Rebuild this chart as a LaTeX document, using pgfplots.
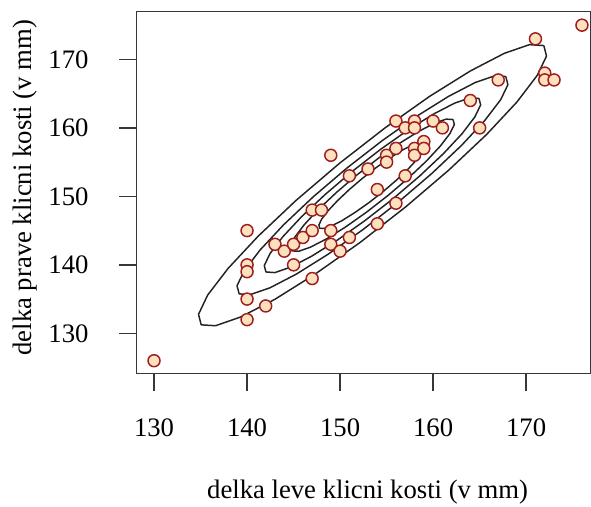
\documentclass[border=0pt]{standalone}
\usepackage{fontspec}
\setmainfont{Liberation Serif}
\usepackage{pgfplots}
\pgfplotsset{compat=1.18}
\definecolor{ptfill}{RGB}{253,224,190}
\definecolor{ptedge}{RGB}{158,30,30}
\definecolor{axgray}{RGB}{55,55,55}
\definecolor{cline}{RGB}{35,35,35}
\begin{document}
\fontsize{20}{24}\selectfont
\begin{tikzpicture}
\begin{axis}[
  scale only axis, width=340pt, height=271.35pt,
  xmin=128.14, xmax=176.9, ymin=124.1, ymax=176.96,
  axis line style={axgray, line width=1.1pt},
  xtick={130,140,150,160,170}, ytick={130,140,150,160,170},
  tick align=outside, major tick length=13pt,
  tick style={axgray, line width=1.1pt},
  xtick pos=bottom, ytick pos=left,
  tick label style={font=\fontsize{20}{24}\selectfont},
  /pgf/number format/assume math mode=true,
  x tick label style={anchor=center, yshift=-27.8pt},
  y tick label style={anchor=east, inner sep=0pt, xshift=-23pt},
  xlabel={delka leve klicni kosti (v mm)},
  ylabel={delka prave klicni kosti (v mm)},
  xlabel style={at={(axis description cs:0.509,-0.3276)}, anchor=center, font=\fontsize{20}{24}\selectfont},
  ylabel style={at={(axis description cs:-0.2465,0.514)}, anchor=center, font=\fontsize{20}{24}\selectfont},
  clip=false,
]
\coordinate (bl) at (rel axis cs:0,0);
\coordinate (tr) at (rel axis cs:1,1);
\pgfplotsset{contourstyle/.style={cline, line width=1.1pt, line join=round, no marks, sharp plot}}
\addplot[contourstyle] coordinates {(171.90,172.02) (170.35,172.15) (167.66,170.89) (164.00,168.31) (159.62,164.60) (154.83,160.00) (149.94,154.83) (145.29,149.44) (141.21,144.21) (137.96,139.48) (135.76,135.58) (134.78,132.77) (135.07,131.24) (136.61,131.11) (139.30,132.38) (142.97,134.95) (147.34,138.67) (152.14,143.26) (157.02,148.43) (161.67,153.82) (165.76,159.05) (169.01,163.78) (171.20,167.68) (172.19,170.49) (171.90,172.02)};
\addplot[contourstyle] coordinates {(167.81,167.50) (166.61,167.60) (164.52,166.62) (161.67,164.61) (158.26,161.72) (154.53,158.14) (150.72,154.12) (147.11,149.93) (143.93,145.85) (141.40,142.17) (139.69,139.13) (138.92,136.95) (139.15,135.76) (140.35,135.66) (142.45,136.64) (145.30,138.65) (148.70,141.54) (152.43,145.12) (156.24,149.14) (159.85,153.33) (163.03,157.41) (165.56,161.09) (167.27,164.13) (168.04,166.31) (167.81,167.50)};
\addplot[contourstyle] coordinates {(164.93,164.30) (163.97,164.39) (162.29,163.60) (160.02,162.00) (157.30,159.69) (154.32,156.83) (151.28,153.62) (148.39,150.27) (145.85,147.02) (143.83,144.08) (142.47,141.65) (141.85,139.90) (142.03,138.96) (142.99,138.87) (144.67,139.66) (146.94,141.26) (149.66,143.57) (152.64,146.43) (155.68,149.64) (158.57,152.99) (161.11,156.24) (163.13,159.18) (164.49,161.61) (165.11,163.36) (164.93,164.30)};
\addplot[contourstyle] coordinates {(162.14,161.22) (161.41,161.28) (160.15,160.69) (158.43,159.47) (156.37,157.73) (154.11,155.56) (151.81,153.13) (149.63,150.60) (147.71,148.14) (146.18,145.92) (145.15,144.08) (144.68,142.76) (144.82,142.04) (145.55,141.98) (146.81,142.58) (148.54,143.79) (150.59,145.53) (152.85,147.70) (155.15,150.13) (157.33,152.66) (159.25,155.12) (160.78,157.35) (161.81,159.18) (162.28,160.50) (162.14,161.22)};
\addplot[contourstyle] coordinates {(159.15,157.91) (158.68,157.95) (157.85,157.56) (156.72,156.77) (155.37,155.63) (153.89,154.21) (152.39,152.62) (150.96,150.96) (149.70,149.34) (148.70,147.89) (148.02,146.68) (147.72,145.82) (147.81,145.35) (148.28,145.31) (149.11,145.70) (150.24,146.49) (151.59,147.64) (153.07,149.05) (154.57,150.64) (156.00,152.30) (157.26,153.92) (158.26,155.37) (158.94,156.58) (159.24,157.44) (159.15,157.91)};
\addplot[only marks, mark=*, mark size=4.5pt, mark options={fill=ptfill, draw=ptedge, line width=1.1pt}] coordinates {
(130,126) (140,145) (140,140) (140,139) (140,135) (140,132) (142,134) (143,143)
(144,142) (145,143) (145,140) (146,144) (147,148) (147,145) (147,138) (148,148)
(149,156) (149,145) (149,143) (150,142) (151,153) (151,144) (153,154) (154,151)
(154,146) (155,156) (155,155) (156,161) (156,157) (156,149) (157,160) (157,153)
(158,161) (158,160) (158,157) (158,156) (159,158) (159,157) (160,161) (161,160)
(164,164) (165,160) (167,167) (171,173) (172,168) (172,167) (173,167) (176,175)};
\end{axis}
\pgfresetboundingbox
\path[use as bounding box] ([xshift=-102.5pt,yshift=-99.4pt]bl) rectangle ([xshift=0.5pt,yshift=8.8pt]tr);
\end{tikzpicture}
\end{document}
